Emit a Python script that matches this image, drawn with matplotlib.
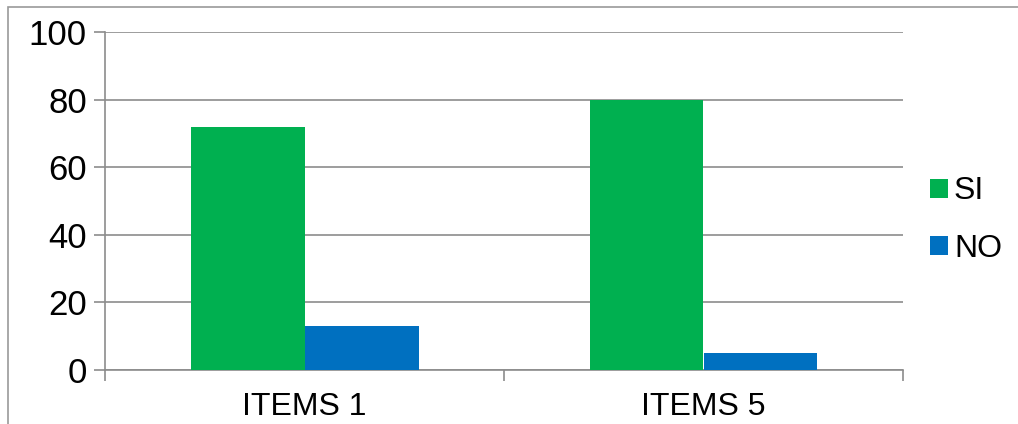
import matplotlib
matplotlib.use("Agg")
import matplotlib.pyplot as plt
from matplotlib.patches import Rectangle
import numpy as np

categories = ["ITEMS 1", "ITEMS 5"]
series_names = ["SI", "NO"]
si_values = [72, 80]
no_values = [13, 5]
yticks = [0, 20, 40, 60, 80, 100]

plt.rcParams['font.family'] = ['Liberation Sans', 'DejaVu Sans']

fig = plt.figure(figsize=(10.18, 4.24), dpi=100)
# outer frame
fig.patches.append(Rectangle((8/1018, -0.01), 1.2, (424-7)/424 + 0.01, transform=fig.transFigure,
                             fill=False, edgecolor='#9a9a9a', linewidth=1.2))
ax = fig.add_axes([105/1018, (424-370)/424, (903-105)/1018, (370-32)/424])

x = np.arange(len(categories))
w = 114/399
ax.bar(x - w/2, si_values, width=w, color='#00B050', label=series_names[0], zorder=3)
ax.bar(x + w/2, no_values, width=w, color='#0070C0', label=series_names[1], zorder=3)

ax.set_xlim(-0.5, 1.5)
ax.set_ylim(0, 100)
ax.set_yticks(yticks)
ax.set_yticklabels([str(v) for v in yticks], fontsize=25)
ax.yaxis.grid(True, color='#8c8c8c', linewidth=1.2, zorder=0)
ax.set_xticks([-0.5, 0.5, 1.5], minor=False)
ax.set_xticklabels([])
ax.set_xticks(x, minor=True)
ax.set_xticklabels(categories, minor=True, fontsize=23)
ax.tick_params(axis='x', which='minor', length=0, pad=16)
ax.tick_params(axis='x', which='major', length=8, color='#8c8c8c', width=1.2)
ax.tick_params(axis='y', length=8, color='#8c8c8c', width=1.2, pad=5)
for s in ['top', 'right']:
    ax.spines[s].set_visible(False)
for s in ['left', 'bottom']:
    ax.spines[s].set_color('#8c8c8c')
    ax.spines[s].set_linewidth(1.2)

leg = ax.legend(loc='center left', bbox_to_anchor=(930/1018, (424-220)/424), bbox_transform=fig.transFigure,
                frameon=False, fontsize=23, handlelength=0.55, handleheight=0.55, handletextpad=0.2,
                labelspacing=0.85, borderpad=0, borderaxespad=0)

fig.savefig("out.png", dpi=100)
